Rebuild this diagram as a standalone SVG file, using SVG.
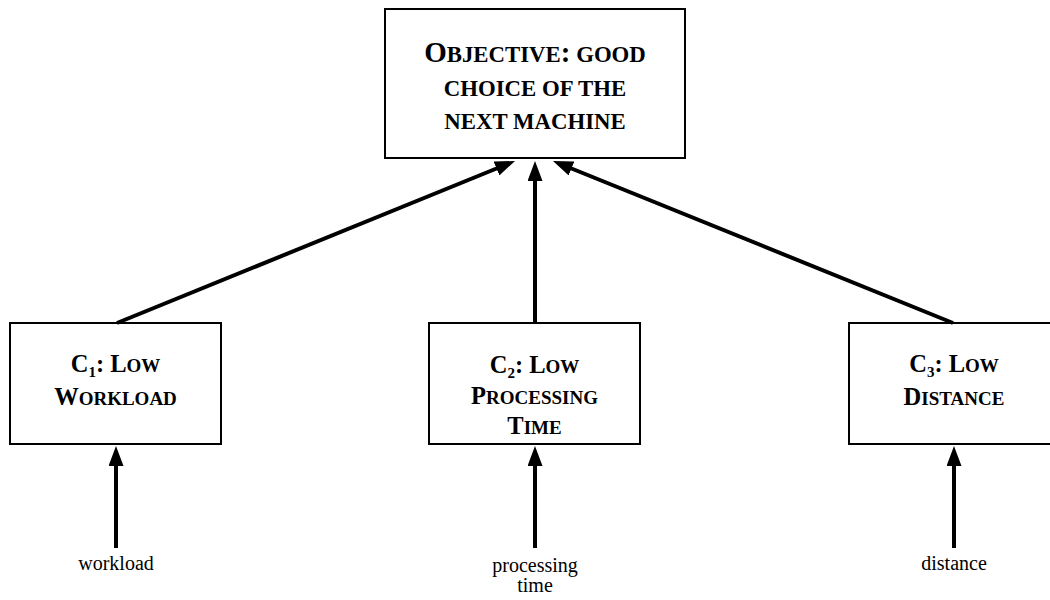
<svg xmlns="http://www.w3.org/2000/svg" width="1050" height="600" viewBox="0 0 1050 600">
<style>
  .box { fill: #ffffff; stroke: #000000; stroke-width: 2; }
  .lbl { font-family: "Liberation Serif", "Times New Roman", serif; font-weight: bold; fill: #000000; text-anchor: middle; }
  .t1 { font-size: 29px; }
  .ts1 { font-size: 22.8px; }
  .c { font-size: 24.5px; }
  .cs { font-size: 19px; }
  .sub { font-size: 15px; }
  .in { font-family: "Liberation Serif", "Times New Roman", serif; font-size: 20px; fill: #000000; text-anchor: middle; }
  .conn { stroke: #000000; stroke-width: 4; fill: none; marker-end: url(#ah); }
</style>
<defs>
  <marker id="ah" markerUnits="userSpaceOnUse" markerWidth="20" markerHeight="15" refX="4" refY="7.5" orient="auto">
    <path d="M0,0 L20,7.5 L0,15 z" fill="#000000"/>
  </marker>
</defs>
<rect x="0" y="0" width="1050" height="600" fill="#ffffff"/>

<g id="objective">
  <rect class="box" x="385" y="9" width="300" height="149"/>
  <text class="lbl" x="535" y="62"><tspan class="t1">O</tspan><tspan class="ts1">BJECTIVE</tspan><tspan class="t1">:</tspan><tspan class="ts1"> GOOD</tspan></text>
  <text class="lbl ts1" x="535" y="95.5">CHOICE OF THE</text>
  <text class="lbl ts1" x="535" y="129">NEXT MACHINE</text>
</g>

<g id="c1">
  <rect class="box" x="10" y="323" width="211" height="121"/>
  <text class="lbl" x="115.5" y="372"><tspan class="c">C</tspan><tspan class="sub" dy="5">1</tspan><tspan class="c" dy="-5">: L</tspan><tspan class="cs">OW</tspan></text>
  <text class="lbl" x="115.5" y="405"><tspan class="c">W</tspan><tspan class="cs">ORKLOAD</tspan></text>
</g>

<g id="c2">
  <rect class="box" x="429" y="323" width="211" height="121"/>
  <text class="lbl" x="534.5" y="373"><tspan class="c">C</tspan><tspan class="sub" dy="5">2</tspan><tspan class="c" dy="-5">: L</tspan><tspan class="cs">OW</tspan></text>
  <text class="lbl" x="534.5" y="404"><tspan class="c">P</tspan><tspan class="cs">ROCESSING</tspan></text>
  <text class="lbl" x="534.5" y="434"><tspan class="c">T</tspan><tspan class="cs">IME</tspan></text>
</g>

<g id="c3">
  <rect class="box" x="849" y="323" width="211" height="121"/>
  <text class="lbl" x="954" y="372"><tspan class="c">C</tspan><tspan class="sub" dy="5">3</tspan><tspan class="c" dy="-5">: L</tspan><tspan class="cs">OW</tspan></text>
  <text class="lbl" x="954" y="405"><tspan class="c">D</tspan><tspan class="cs">ISTANCE</tspan></text>
</g>

<g id="in-workload">
  <text class="in" x="116" y="570">workload</text>
</g>
<g id="in-processing">
  <text class="in" x="535" y="572">processing</text>
  <text class="in" x="535" y="592">time</text>
</g>
<g id="in-distance">
  <text class="in" x="954" y="570">distance</text>
</g>

<g id="connectors">
  <line class="conn" x1="117" y1="323" x2="500.2" y2="167"/>
  <line class="conn" x1="535" y1="323" x2="535" y2="177"/>
  <line class="conn" x1="953" y1="323" x2="567.8" y2="167"/>
  <line class="conn" x1="116" y1="548" x2="116" y2="462"/>
  <line class="conn" x1="535" y1="548" x2="535" y2="462"/>
  <line class="conn" x1="954" y1="548" x2="954" y2="462"/>
</g>
</svg>
